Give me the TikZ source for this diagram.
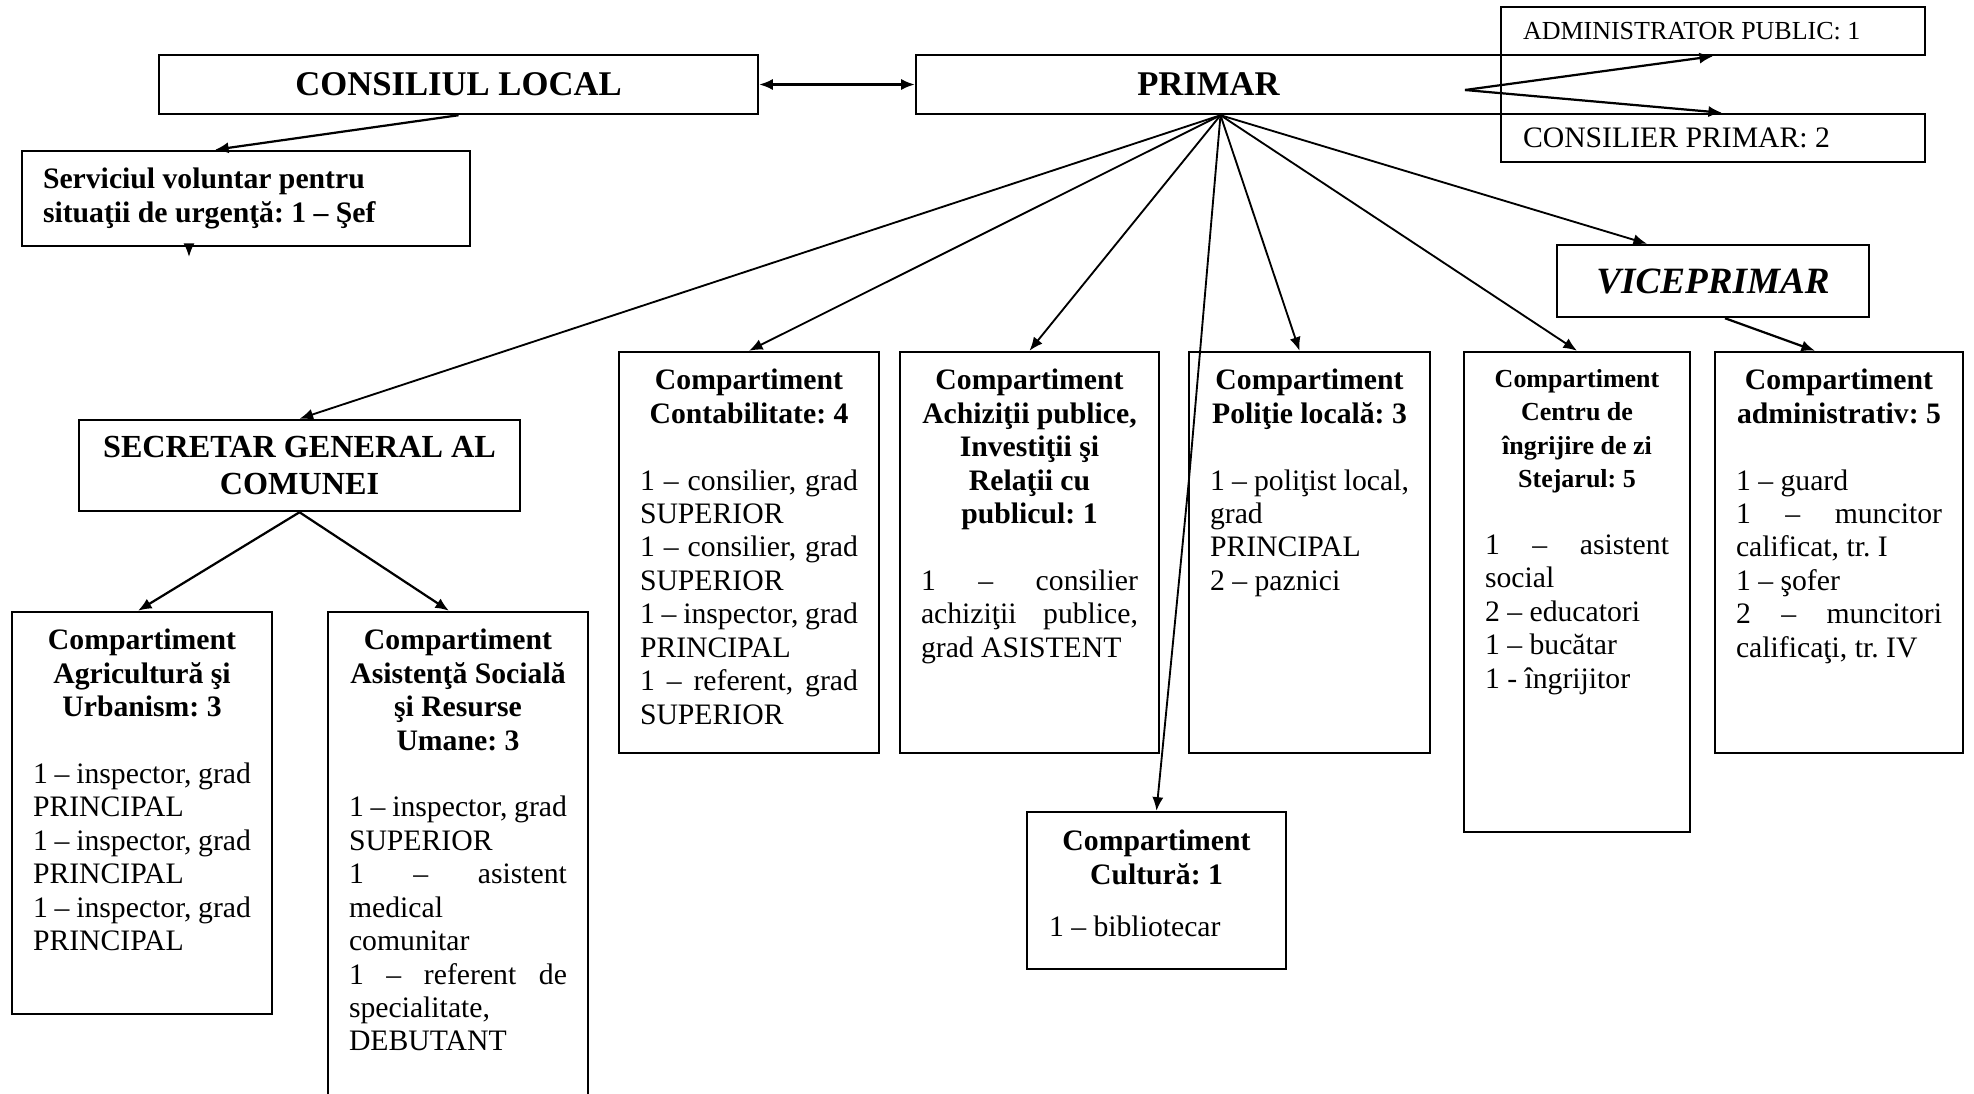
\documentclass[tikz,border=0pt]{standalone}
\usepackage{fontspec}
\setmainfont{Liberation Serif}
\usetikzlibrary{calc,arrows.meta}
\setlength{\parindent}{0pt}
\frenchspacing
\newcommand{\pxu}{0.404pt}
\newcommand{\hdr}{\centering\bfseries}
\newcommand{\plainsp}{\spaceskip=0pt\xspaceskip=0pt}
\newcommand{\fl}[1]{\makebox[\hsize][s]{#1}}

\begin{document}
\begin{tikzpicture}[x=0.404pt,y=-0.404pt,>={Latex[length=5.5pt,width=4.5pt]},
	unitbox/.style={draw,line width=1pt,inner sep=0pt},
	unittext/.style={anchor=north,inner sep=0pt,align=left,font=\fontsize{12}{13.5}\selectfont,execute at begin node=\plainsp},
	titlebox/.style={draw,line width=1pt,font=\fontsize{14}{16}\selectfont\bfseries},
	smallbox/.style={unitbox,font=\fontsize{12}{13.5}\selectfont,align=left,execute at begin node=\plainsp},
	linkline/.style={line width=0.9pt},
	fanline/.style={line width=0.75pt}]
	\useasboundingbox (0,0) rectangle (1974,1093);
	\clip (0,0) rectangle (1974,1093);
	% top row
	\node[titlebox,minimum width=599*\pxu,minimum height=59*\pxu] (cons) at (458.5,84.5) {CONSILIUL LOCAL};
	\node[titlebox,minimum width=585*\pxu,minimum height=59*\pxu] (primar) at (1208.5,84.5) {PRIMAR};
	\node[smallbox,font=\fontsize{10.5}{12}\selectfont,text width=380*\pxu,inner xsep=22*\pxu,minimum height=48*\pxu] (admin) at (1713,31) {ADMINISTRATOR PUBLIC: 1};
	\node[smallbox,text width=380*\pxu,inner xsep=22*\pxu,minimum height=48*\pxu] (consprim) at (1713,138) {CONSILIER PRIMAR: 2};
	\node[smallbox,font=\fontsize{12}{13.5}\selectfont\bfseries,text width=406*\pxu,inner xsep=21*\pxu,minimum height=95*\pxu] (serv) at (246,198.5) {Serviciul voluntar pentru\\situaţii de urgenţă: 1 – Şef};
	\node[titlebox,font=\fontsize{15}{17}\selectfont\bfseries\itshape,minimum width=312*\pxu,minimum height=72*\pxu] (vice) at (1713,281) {VICEPRIMAR};
	\node[titlebox,font=\fontsize{13}{15}\selectfont\bfseries,align=center,minimum width=441*\pxu,minimum height=91*\pxu] (secr) at (299.5,465.5) {SECRETAR GENERAL AL\\COMUNEI};

	% compartimente
	\node[unitbox,minimum width=260*\pxu,minimum height=402*\pxu] (agri) at (142,813) {};
	\node[unittext,text width=218*\pxu] (agritext) at ($(agri.north)+(0,18)$) {{\hdr Compartiment\\Agricultură şi\\Urbanism: 3\par}\vspace{13.5pt}
		\fl{1 – inspector, grad}\\PRINCIPAL\\\fl{1 – inspector, grad}\\PRINCIPAL\\\fl{1 – inspector, grad}\\PRINCIPAL};
	\node[unitbox,minimum width=260*\pxu,minimum height=498*\pxu] (asist) at (458,861) {};
	\node[unittext,text width=218*\pxu] (asisttext) at ($(asist.north)+(0,18)$) {{\hdr Compartiment\\Asistenţă Socială\\şi Resurse\\Umane: 3\par}\vspace{13.5pt}
		\fl{1 – inspector, grad}\\SUPERIOR\\\fl{1 – asistent}\\medical\\comunitar\\\fl{1 – referent de}\\specialitate,\\DEBUTANT};
	\node[unitbox,minimum width=260*\pxu,minimum height=401*\pxu] (contab) at (749,552.5) {};
	\node[unittext,text width=218*\pxu] (contabtext) at ($(contab.north)+(0,18)$) {{\hdr Compartiment\\Contabilitate: 4\par}\vspace{13.5pt}
		\fl{1 – consilier, grad}\\SUPERIOR\\\fl{1 – consilier, grad}\\SUPERIOR\\\fl{1 – inspector, grad}\\PRINCIPAL\\\fl{1 – referent, grad}\\SUPERIOR};
	\node[unitbox,minimum width=259*\pxu,minimum height=401*\pxu] (achiz) at (1029.5,552.5) {};
	\node[unittext,text width=217*\pxu] (achiztext) at ($(achiz.north)+(0,18)$) {{\hdr Compartiment\\Achiziţii publice,\\Investiţii şi\\Relaţii cu\\publicul: 1\par}\vspace{13.5pt}
		\fl{1 – consilier}\\\fl{achiziţii publice,}\\grad ASISTENT};
	\node[unitbox,minimum width=241*\pxu,minimum height=401*\pxu] (polit) at (1309.5,552.5) {};
	\node[unittext,text width=199*\pxu] (polittext) at ($(polit.north)+(0,18)$) {{\hdr Compartiment\\Poliţie locală: 3\par}\vspace{13.5pt}
		\fl{1 – poliţist local,}\\grad\\PRINCIPAL\\2 – paznici};
	\node[unitbox,minimum width=226*\pxu,minimum height=480*\pxu] (centru) at (1577,592) {};
	\node[unittext,text width=184*\pxu] (centrutext) at ($(centru.north)+(0,18)$) {{\hdr\fontsize{10.5}{13.5}\selectfont Compartiment\\Centru de\\îngrijire de zi\\Stejarul: 5\par}\vspace{13.5pt}
		\fl{1 – asistent}\\social\\2 – educatori\\1 – bucătar\\1 - îngrijitor};
	\node[unitbox,minimum width=248*\pxu,minimum height=401*\pxu] (adm) at (1839,552.5) {};
	\node[unittext,text width=206*\pxu] (admtext) at ($(adm.north)+(0,18)$) {{\hdr Compartiment\\administrativ: 5\par}\vspace{13.5pt}
		1 – guard\\\fl{1 – muncitor}\\calificat, tr. I\\1 – şofer\\\fl{2 – muncitori}\\calificaţi, tr. IV};
	\node[unitbox,minimum width=259*\pxu,minimum height=157*\pxu] (cult) at (1156.5,890.5) {};
	\node[unittext,text width=215*\pxu] (culttext) at ($(cult.north)+(0,19)$) {{\hdr Compartiment\\Cultură: 1\par}\vspace{7.5pt}
		1 – bibliotecar};

	% legaturi
	\draw[linkline,<->] (cons.east) -- (primar.west);
	\draw[linkline,->] (cons.south) -- ($(serv.north)+(-31,0)$);
	\coordinate (servtip) at (189,257);
	\draw[linkline,->] (servtip |- serv.south) -- (servtip);
	\coordinate (pfork) at (1465,90);
	\draw[linkline,->] (pfork) -- (admin.south);
	\draw[linkline,->] (pfork) -- ($(consprim.north)+(9,0)$);
	\coordinate (pfan) at ($(primar.south)+(12,0)$);
	\draw[fanline,->] (pfan) -- (secr.north);
	\draw[fanline,->] (pfan) -- (contab.north);
	\draw[fanline,->] (pfan) -- (achiz.north);
	\coordinate (cbend) at (1189,479);
	\draw[fanline,->] (pfan) -- (cbend) -- (cult.north);
	\draw[fanline,->] (pfan) -- ($(polit.north)+(-10,0)$);
	\draw[fanline,->] (pfan) -- (centru.north);
	\draw[fanline,->] (pfan) -- ($(vice.north)+(-66,0)$);
	\draw[linkline,->] ($(vice.south)+(12,0)$) -- ($(adm.north)+(-24,0)$);
	\draw[linkline,->] (secr.south) -- ($(agri.north)+(-4,0)$);
	\draw[linkline,->] (secr.south) -- ($(asist.north)+(-9,0)$);
\end{tikzpicture}
\end{document}
